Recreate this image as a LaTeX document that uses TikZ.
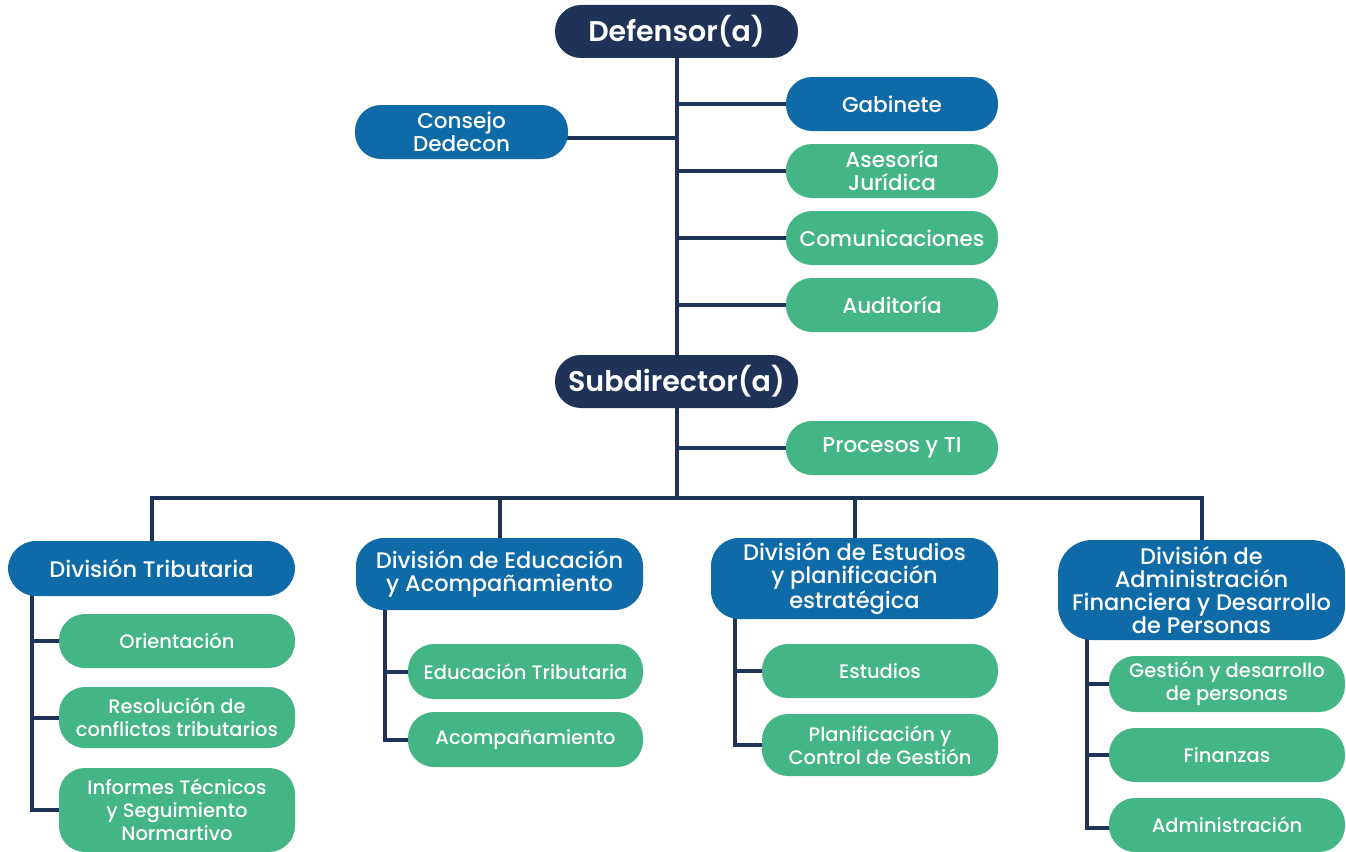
\documentclass[tikz,border=0pt]{standalone}
\usepackage{fontspec}
\setmainfont{Poppins}
\newfontfamily\pmed{Poppins Medium}
\newfontfamily\psemi{Poppins SemiBold}
\usetikzlibrary{backgrounds}
\definecolor{navy}{HTML}{1F3358}
\definecolor{mblue}{HTML}{0F6BA8}
\definecolor{mgreen}{HTML}{43B586}
\tikzset{
  base/.style={text=white, inner sep=0pt, align=center, font=\pmed\fontsize{19.5}{23}\selectfont},
  upper/.style={font=\pmed\fontsize{21.5}{23}\selectfont},
  head/.style={base, fill=navy, rounded corners=26pt, minimum width=243pt, minimum height=53pt, font=\psemi\fontsize{28.5}{32}\selectfont},
  bluebox/.style={base, upper, fill=mblue, rounded corners=26pt, minimum width=#1, minimum height=54pt},
  greenbox/.style={base, fill=mgreen, rounded corners=26pt, minimum width=236pt, minimum height=#1},
  divbox/.style={base, fill=mblue, rounded corners=28pt, minimum width=287pt, minimum height=#1, font=\pmed\fontsize{22.5}{23}\selectfont},
  link/.style={draw=navy, line width=4pt},
}
\begin{document}
\begin{tikzpicture}[x=1pt, y=-1pt]
\useasboundingbox (0,0) rectangle (1346,851);
% top level
\node[head] (def) at (676.5,31.5) {Defensor(a)};
\node[bluebox=213pt] (con) at (461.5,132) {Consejo\\Dedecon};
\node[bluebox=212pt] (gab) at (892,104) {Gabinete};
\node[greenbox=54pt, upper, minimum width=212pt] (ase) at (892,171) {Asesoría\\Jurídica};
\node[greenbox=54pt, upper, minimum width=212pt] (com) at (892,238) {Comunicaciones};
\node[greenbox=54pt, upper, minimum width=212pt] (aud) at (892,305) {Auditoría};
\node[head] (sub) at (676.5,381.5) {Subdirector(a)};
\node[greenbox=54pt, upper, minimum width=212pt] (pro) at (892,448) {Procesos y TI};
% divisions
\node[divbox=55pt] (dt) at (151.5,568.5) {División Tributaria};
\node[divbox=72pt] (de) at (499.5,574) {División de Educación\\y Acompañamiento};
\node[divbox=81pt] (des) at (854.5,578.5) {División de Estudios\\y planificación\\estratégica};
\node[divbox=100pt, rounded corners=34pt] (dp) at (1201.5,590) {División de\\Administración\\Financiera y Desarrollo\\de Personas};
% children col 1
\node[greenbox=54pt] (ori) at (177,641) {Orientación};
\node[greenbox=61pt] (res) at (177,717.5) {Resolución de\\conflictos tributarios};
\node[greenbox=84pt] (inf) at (177,810) {Informes Técnicos\\y Seguimiento\\Normartivo};
% col 2
\node[greenbox=55pt, minimum width=235pt] (edu) at (525.5,671.5) {Educación Tributaria};
\node[greenbox=55pt, minimum width=235pt] (aco) at (525.5,739.5) {Acompañamiento};
% col 3
\node[greenbox=54pt] (est) at (880,671) {Estudios};
\node[greenbox=62pt] (pla) at (880,745) {Planificación y\\Control de Gestión};
% col 4
\node[greenbox=56pt] (ges) at (1227,684) {Gestión y desarrollo\\de personas};
\node[greenbox=54pt] (fin) at (1227,755) {Finanzas};
\node[greenbox=54pt] (adm) at (1227,825) {Administración};
% connectors
\begin{scope}[on background layer]
\coordinate (busc) at (676.5,498);
\draw[link] (def.center) -- (busc);
\draw[link] ([yshift=-5.5pt]con.center) -- ([yshift=-5.5pt]con.center -| def.center);
\draw[link] (gab.center) -- (gab.center -| def.center);
\draw[link] (ase.center) -- (ase.center -| def.center);
\draw[link] (com.center) -- (com.center -| def.center);
\draw[link] (aud.center) -- (aud.center -| def.center);
\draw[link] (pro.center) -- (pro.center -| sub.center);
\draw[link] (dt.center) |- (busc) -| (dp.center);
\draw[link] (de.center) -- (de.center |- busc);
\draw[link] (des.center) -- (des.center |- busc);
% col1
\coordinate (s1) at ([xshift=24pt]dt.west);
\draw[link] (s1) |- (inf.center);
\draw[link] (ori.center) -- (ori.center -| s1);
\draw[link] (res.center) -- (res.center -| s1);
% col2
\coordinate (s2) at ([xshift=29pt]de.west);
\draw[link] (s2) |- (aco.center);
\draw[link] (edu.center) -- (edu.center -| s2);
% col3
\coordinate (s3) at ([xshift=24pt]des.west);
\draw[link] (s3) |- (pla.center);
\draw[link] (est.center) -- (est.center -| s3);
% col4
\coordinate (s4) at ([xshift=29pt]dp.west);
\draw[link] (s4) |- ([yshift=-3pt]adm.center);
\draw[link] (ges.center) -- (ges.center -| s4);
\draw[link] (fin.center) -- (fin.center -| s4);
\end{scope}
\end{tikzpicture}
\end{document}
